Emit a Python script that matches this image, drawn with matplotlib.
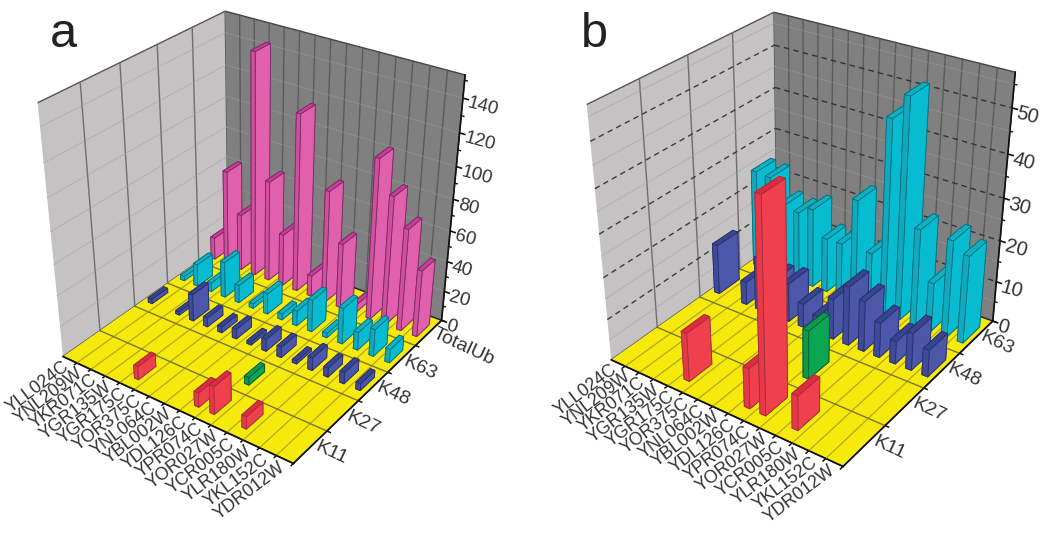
import numpy as np
import matplotlib
matplotlib.use("Agg")
import matplotlib.pyplot as plt
from matplotlib.transforms import Affine2D
from mpl_toolkits.mplot3d import Axes3D

plt.rcParams['font.family'] = ['Liberation Sans', 'DejaVu Sans']

genes = ["YLL024C", "YNL209W", "YKR071C", "YGR135W", "YGR175C", "YOR375C", "YNL064C", "YBL002W",
         "YDL126C", "YPR074C", "YOR027W", "YCR005C", "YLR180W", "YKL152C", "YDR012W"]
a_sites = ["K11", "K27", "K48", "K63", "TotalUb"]
b_sites = ["K11", "K27", "K48", "K63"]

# panel a values, one list per row (x = gene order)
a_k11 = [0, 0, 0, 0, 8.5, 0, 0, 0, 9.3, 18, 0, 8, 0, 0, 0]
a_k27 = [0, 0, 0, 0, 0, 0, 0, 0, 0, 5, 0, 0, 0, 0, 0]
a_k48 = [3, 0, 2, 18, 6, 4, 6.5, 2, 8, 7, 2, 8.5, 6, 7.5, 4.5]
a_k63 = [3, 15, 6, 24, 12, 3, 14, 4, 10, 21.5, 3, 24, 12, 18, 9]
a_tot = [15, 64, 38, 145, 67, 35, 116, 14, 74, 43, 5, 104, 84, 67, 44]

# panel b values
b_k11 = [0, 0, 0, 0, 11.7, 0, 0, 0, 9.6, 48.7, 0, 8.2, 0, 0, 0]
b_k27 = [0, 0, 0, 0, 0, 0, 0, 0, 0, 11.7, 0, 0, 0, 0, 0]
b_k48 = [12.4, 0, 5.7, 13, 9, 9.5, 5.8, 4.2, 10, 14.4, 12.3, 8.5, 5.5, 9, 6.5]
b_k63 = [24.3, 24, 18.3, 17.6, 19.6, 13.5, 13.6, 25.5, 13.8, 46.5, 52.3, 23.5, 11.9, 23.5, 21.2]

a_rows = [a_k11, a_k27, a_k48, a_k63, a_tot]
b_rows = [b_k11, b_k27, b_k48, b_k63]

a_zticks = [0, 20, 40, 60, 80, 100, 120, 140]
b_zticks = [0, 10, 20, 30, 40, 50]

# face, narrow face, top, edge
palette = [
    ('#f0404e', '#e83848', '#e02a3e', '#a03040'),
    ('#0aa653', '#0a9a4e', '#0d9a50', '#0a5a35'),
    ('#4b57a8', '#3f4a98', '#39448f', '#2b3070'),
    ('#07bcd0', '#10a9bd', '#0bb3c2', '#0b6f80'),
    ('#e060ac', '#d0509e', '#c83c96', '#7a2a68'),
]

FIG_H = 533


def camera(x1, y1, z1, anchors):
    """3x4 projective camera from box corners to figure pixels."""
    rows = []
    for (bx, by, bz), (px, py) in anchors:
        X = np.array([bx * x1, by * y1, bz * z1, 1.0])
        Y = FIG_H - py
        rows.append(np.r_[X, np.zeros(4), -px * X])
        rows.append(np.r_[np.zeros(4), X, -Y * X])
    P = np.linalg.svd(np.array(rows))[2][-1].reshape(3, 4)
    if P[2] @ np.array([x1 / 2, y1 / 2, z1 / 2, 1.0]) < 0:
        P = -P
    return P


def shift(label, ax, dx, dy):
    off = Affine2D().translate(dx, dy)
    label.get_transform = lambda: ax.transData + off


def panel(rect, anchors, sites, zmax, zticks, zminor, rows, dx, dy, dashed, zsize):
    ax = plt.gcf().add_axes(rect, projection='3d', computed_zorder=False)
    ax.patch.set_alpha(0)
    ax.set_autoscale_on(False)
    nx, ny = len(genes), len(sites)
    P = camera(nx, ny, zmax, anchors)

    def get_proj():
        T = ax.transData.get_affine().inverted().get_matrix()
        Q = T @ P
        return np.array([Q[0], Q[1], [0, 0, 0, -1.0], Q[2]])

    ax.get_proj = get_proj
    ax.apply_aspect = lambda position=None: None

    ax.xaxis.set_pane_color('#c4c2c2')
    ax.yaxis.set_pane_color('#808080')
    ax.zaxis.set_pane_color('#f6ea0c')
    ax.xaxis.pane.set_edgecolor('#555555')
    ax.yaxis.pane.set_edgecolor('#444444')
    ax.zaxis.pane.set_edgecolor('#222222')
    ax.grid(False)

    lz = 1
    for x in range(1, nx):
        ax.plot([x, x], [0, ny], [0, 0], color='#b3a71c', lw=0.9, zorder=lz)
        ax.plot([x, x], [ny, ny], [0, zmax], color='#5a5a5a', lw=1.0, zorder=lz)
    for y in range(1, ny):
        ax.plot([0, nx], [y, y], [0, 0], color='#7c752a', lw=1.0, zorder=lz)
        ax.plot([0, 0], [y, y], [0, zmax], color='#6e6e6e', lw=1.0, zorder=lz)
    for z in zminor:
        ax.plot([0, 0], [0, ny], [z, z], color='#a0a0a0', lw=0.7, ls=(0, (1, 1)), zorder=lz)
        ax.plot([0, nx], [ny, ny], [z, z], color='#9c9c9c', lw=0.7, ls=(0, (1, 1)), zorder=lz)
    if dashed:
        for z in zticks[1:]:
            ax.plot([0, 0], [0, ny], [z, z], color='#3c3c3c', lw=1.0, ls=(0, (4, 3)), zorder=lz)
            ax.plot([0, nx], [ny, ny], [z, z], color='#333333', lw=1.0, ls=(0, (4, 3)), zorder=lz)

    zo = 10
    for j in range(ny - 1, -1, -1):
        face, narrow, top, edge = palette[j]
        for i, v in enumerate(rows[j]):
            zo += 1
            if v <= 0:
                continue
            cols = [top, top, narrow, narrow, face, face]
            ax.bar3d([i + 0.5 - dx / 2], [j + 0.5 - dy / 2], [0], dx, dy, v, color=cols,
                     edgecolor=edge, linewidth=0.6, shade=False, zorder=zo)

    # short tick strokes on the three outer edges
    step = zticks[1] - zticks[0]
    for x in range(1, nx + 1):
        ax.plot([x, x], [0, -0.06], [0, 0], color='#111111', lw=1.1, zorder=zo + 1)
    for y in range(1, ny + 1):
        ax.plot([nx, nx + 0.2], [y, y], [0, 0], color='#111111', lw=1.1, zorder=zo + 1)
    for z in zticks:
        ax.plot([nx, nx + 0.3], [ny, ny], [z, z], color='#111111', lw=1.2, zorder=zo + 1)
        if z + step / 2 < zmax:
            ax.plot([nx, nx + 0.15], [ny, ny], [z + step / 2] * 2, color='#111111', lw=1.0, zorder=zo + 1)

    ax.set_xlim(0, nx)
    ax.set_ylim(0, ny)
    ax.set_zlim(0, zmax)

    ax.set_xticks(np.arange(1, nx + 1), genes)
    ax.set_yticks(np.arange(1, ny + 1), sites)
    ax.set_zticks(zticks)

    ax.tick_params(axis='x', labelsize=12.8, labelcolor='#333333', pad=-8)
    ax.tick_params(axis='y', labelsize=14, labelcolor='#333333', pad=-8)
    ax.tick_params(axis='z', labelsize=zsize, labelcolor='#333333', pad=-8)
    for lab in ax.get_xticklabels():
        lab.set(rotation=37, ha='right', va='center', rotation_mode='anchor')
        shift(lab, ax, -10, -2)
    for lab, site in zip(ax.get_yticklabels(), sites):
        lab.set(rotation=-25, ha='left', va='center', rotation_mode='anchor')
        shift(lab, ax, -8 if site == 'TotalUb' else -11, -13 if site == 'TotalUb' else -15)
    for lab in ax.get_zticklabels():
        lab.set(rotation=-15, ha='left', va='center', rotation_mode='anchor')
        shift(lab, ax, 5, -5)
    for axis in (ax.xaxis, ax.yaxis, ax.zaxis):
        axis.line.set_color('#111111')
        axis.line.set_linewidth(1.2)
        axis._axinfo['tick']['inward_factor'] = 0
        axis._axinfo['tick']['outward_factor'] = 0
    return ax


fig = plt.figure(figsize=(10.5, 5.33), dpi=100)

anch_a = [((0, 0, 0), (63, 355)), ((0, 0, 1), (38, 103)), ((0, 1, 1), (225, 10)), ((1, 1, 1), (465, 76)),
          ((1, 1, 0), (442, 318)), ((1, 0, 0), (293, 465)), ((0, 1, 0), (228, 243))]
anch_b = [((0, 0, 0), (611, 358)), ((0, 0, 1), (587, 105)), ((0, 1, 1), (774, 11)), ((1, 1, 1), (1015, 73)),
          ((1, 1, 0), (993, 319)), ((1, 0, 0), (843, 468)), ((0, 1, 0), (777, 245))]

panel([0, 0, 0.5, 1], anch_a, a_sites, 153, a_zticks, a_zticks[1:], a_rows, 0.28, 0.48, False, 13.5)
panel([0.5, 0, 0.5, 1], anch_b, b_sites, 57.5, b_zticks, [5, 15, 25, 35, 45, 55], b_rows, 0.36, 0.5, True, 14.5)

fig.text(50 / 1050, 1 - 47 / 533, 'a', fontsize=35, color='#222222', va='baseline')
fig.text(581 / 1050, 1 - 47 / 533, 'b', fontsize=35, color='#222222', va='baseline')

fig.savefig('out.png', dpi=100)
